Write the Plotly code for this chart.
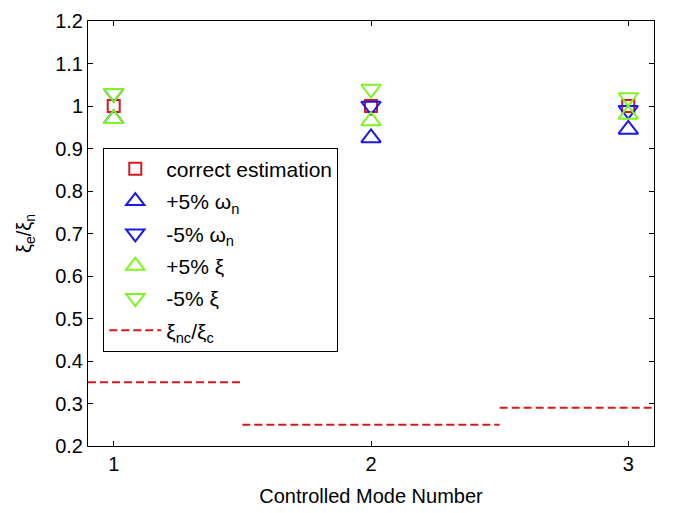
import plotly.graph_objects as go

# Controlled mode numbers
modes = [1, 2, 3]

# Estimated / nominal damping ratio for each perturbation case
correct_est = [1.0, 1.0, 1.0]
plus5_wn = [0.97, 0.925, 0.945]
minus5_wn = [1.03, 1.0, 0.99]
plus5_xi = [0.97, 0.965, 0.98]
minus5_xi = [1.03, 1.04, 1.02]

# Uncontrolled / controlled damping ratio per mode, held over each mode's band
xi_ratio = [0.35, 0.25, 0.29]
band_edges = [0.9, 1.5, 2.5, 3.1]

RED = "rgb(215,25,30)"
BLUE = "rgb(25,25,235)"
GREEN = "rgb(125,245,30)"
FONT = "Liberation Sans, Arial, sans-serif"

fig = go.Figure()

marker_series = [
    ("correct estimation", correct_est, "square-open", RED, 12),
    ("+5% ω<sub>n</sub>", plus5_wn, "triangle-up-open", BLUE, 17),
    ("-5% ω<sub>n</sub>", minus5_wn, "triangle-down-open", BLUE, 17),
    ("+5% ξ", plus5_xi, "triangle-up-open", GREEN, 17),
    ("-5% ξ", minus5_xi, "triangle-down-open", GREEN, 17),
]
for i, (name, vals, sym, col, sz) in enumerate(marker_series):
    fig.add_trace(go.Scatter(
        x=modes, y=vals, mode="markers", name=name, legendgroup=f"g{i}",
        marker=dict(symbol=sym, size=sz, color=col, line=dict(color=col, width=2)),
    ))

# Step segments for the damping ratio, separated by gaps
seg_x, seg_y = [], []
for k, v in enumerate(xi_ratio):
    seg_x += [band_edges[k], band_edges[k + 1], None]
    seg_y += [v, v, None]
fig.add_trace(go.Scatter(
    x=seg_x, y=seg_y, mode="lines", name="ξ<sub>nc</sub>/ξ<sub>c</sub>", legendgroup="g5",
    line=dict(color=RED, width=2, dash="8px,4px"),
))

axis_common = dict(
    showline=True, linecolor="black", linewidth=1, mirror="allticks",
    ticks="inside", ticklen=5, tickcolor="black", showgrid=False, zeroline=False,
    tickfont=dict(family=FONT, size=20, color="black"),
    ticklabeloverflow="allow",
)

fig.update_layout(
    width=675, height=513,
    margin=dict(l=88, r=21, t=10, b=65),
    paper_bgcolor="white", plot_bgcolor="white",
    font=dict(family=FONT, size=20, color="black"),
    xaxis=dict(range=[0.9, 3.1], tickvals=[1, 2, 3], ticktext=["1", "2", "3"],
               title=dict(text="Controlled Mode Number", font=dict(size=20), standoff=14),
               **axis_common),
    yaxis=dict(range=[0.2, 1.2], tickvals=[0.2, 0.3, 0.4, 0.5, 0.6, 0.7, 0.8, 0.9, 1.0, 1.1, 1.2],
               ticktext=["0.2", "0.3", "0.4", "0.5", "0.6", "0.7", "0.8", "0.9", "1", "1.1", "1.2"],
               title=dict(text="ξ<sub>e</sub>/ξ<sub>n</sub>", font=dict(size=20), standoff=18),
               **axis_common),
    legend=dict(
        x=0.027, y=0.702, xanchor="left", yanchor="top",
        bgcolor="white", bordercolor="black", borderwidth=1,
        font=dict(family=FONT, size=21, color="black"),
        tracegroupgap=2, itemwidth=52,
    ),
    showlegend=True,
)

fig.write_html("out.html")
